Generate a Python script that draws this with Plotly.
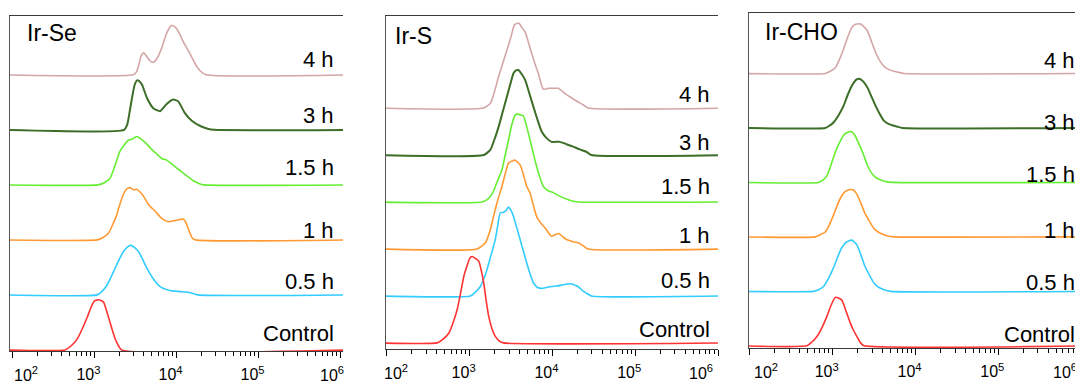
import plotly.graph_objects as go

# ---------------- DATA (log10 fluorescence intensity, normalized histogram height) ----------------
series_names = ["Control", "0.5 h", "1 h", "1.5 h", "3 h", "4 h"]
series_colors = ["#ff3333", "#33ccff", "#ff9933", "#66ee33", "#3d6e28", "#d4a6a6"]
panel_titles = ["Ir-Se", "Ir-S", "Ir-CHO"]
tick_values = [1e2, 1e3, 1e4, 1e5, 1e6]
tick_labels = ["10<sup>2</sup>", "10<sup>3</sup>", "10<sup>4</sup>", "10<sup>5</sup>", "10<sup>6</sup>"]

# Ir-Se
se_control_x = [2.64, 2.72, 2.79, 2.85, 2.91, 2.96, 3.00, 3.04, 3.08, 3.11, 3.15, 3.19, 3.23, 3.27, 3.33]
se_control_y = [0, 0.08, 0.20, 0.38, 0.59, 0.78, 0.89, 0.91, 0.90, 0.87, 0.70, 0.50, 0.30, 0.14, 0]
se_05h_x = [3.03, 3.09, 3.15, 3.20, 3.25, 3.30, 3.35, 3.40, 3.44, 3.49, 3.54, 3.58, 3.62, 3.70, 3.80, 3.92, 4.05, 4.17, 4.26]
se_05h_y = [0, 0.06, 0.17, 0.32, 0.48, 0.64, 0.78, 0.87, 0.90, 0.86, 0.78, 0.67, 0.54, 0.33, 0.15, 0.08, 0.06, 0.04, 0]
se_1h_x = [3.03, 3.10, 3.17, 3.22, 3.27, 3.31, 3.35, 3.39, 3.43, 3.48, 3.51, 3.55, 3.60, 3.66, 3.74, 3.82, 3.90, 3.98, 4.04, 4.08, 4.11, 4.15, 4.19, 4.23]
se_1h_y = [0, 0.04, 0.12, 0.27, 0.45, 0.65, 0.82, 0.92, 0.95, 0.91, 0.92, 0.88, 0.79, 0.64, 0.52, 0.39, 0.33, 0.35, 0.37, 0.38, 0.33, 0.18, 0.04, 0]
se_15h_x = [3.04, 3.12, 3.19, 3.25, 3.31, 3.37, 3.42, 3.46, 3.49, 3.52, 3.56, 3.64, 3.70, 3.76, 3.82, 3.88, 3.94, 4.00, 4.06, 4.13, 4.20, 4.28, 4.33]
se_15h_y = [0, 0.04, 0.12, 0.35, 0.61, 0.74, 0.82, 0.83, 0.86, 0.88, 0.84, 0.74, 0.64, 0.56, 0.48, 0.45, 0.38, 0.31, 0.24, 0.16, 0.08, 0.02, 0]
se_3h_x = [3.36, 3.40, 3.43, 3.46, 3.49, 3.52, 3.55, 3.58, 3.64, 3.72, 3.80, 3.88, 3.96, 4.02, 4.10, 4.19, 4.29, 4.38, 4.46]
se_3h_y = [0, 0.10, 0.34, 0.60, 0.82, 0.90, 0.88, 0.82, 0.58, 0.39, 0.34, 0.47, 0.55, 0.52, 0.31, 0.16, 0.07, 0.02, 0]
se_4h_x = [3.47, 3.51, 3.54, 3.57, 3.60, 3.64, 3.68, 3.72, 3.77, 3.82, 3.88, 3.94, 3.99, 4.04, 4.08, 4.14, 4.19, 4.24, 4.29, 4.36]
se_4h_y = [0, 0.05, 0.18, 0.35, 0.40, 0.33, 0.25, 0.23, 0.32, 0.49, 0.76, 0.90, 0.86, 0.74, 0.61, 0.45, 0.31, 0.17, 0.07, 0]

# Ir-S
s_control_x = [2.61, 2.68, 2.75, 2.80, 2.85, 2.89, 2.93, 2.97, 3.00, 3.03, 3.07, 3.11, 3.14, 3.17, 3.20, 3.23, 3.27, 3.31, 3.36, 3.41]
s_control_y = [0, 0.08, 0.21, 0.43, 0.71, 1.05, 1.42, 1.65, 1.80, 1.84, 1.80, 1.74, 1.55, 1.28, 0.90, 0.57, 0.30, 0.14, 0.04, 0]
s_05h_x = [3.01, 3.07, 3.13, 3.17, 3.21, 3.26, 3.31, 3.34, 3.37, 3.41, 3.44, 3.47, 3.50, 3.53, 3.57, 3.61, 3.65, 3.69, 3.73, 3.77, 3.82, 3.87, 3.93, 3.99, 4.05, 4.11, 4.16, 4.21, 4.26, 4.31, 4.36, 4.41, 4.47]
s_05h_y = [0, 0.08, 0.20, 0.36, 0.56, 0.88, 1.20, 1.50, 1.77, 1.78, 1.82, 1.89, 1.82, 1.69, 1.45, 1.20, 0.95, 0.70, 0.47, 0.28, 0.18, 0.16, 0.18, 0.20, 0.21, 0.23, 0.25, 0.26, 0.24, 0.20, 0.12, 0.06, 0]
s_1h_x = [3.09, 3.19, 3.25, 3.29, 3.33, 3.39, 3.43, 3.47, 3.51, 3.55, 3.61, 3.65, 3.69, 3.73, 3.77, 3.81, 3.86, 3.91, 3.95, 3.99, 4.04, 4.08, 4.12, 4.17, 4.24, 4.31, 4.37, 4.43]
s_1h_y = [0, 0.13, 0.41, 0.70, 0.98, 1.33, 1.60, 1.83, 1.87, 1.89, 1.79, 1.58, 1.33, 1.19, 0.93, 0.69, 0.55, 0.45, 0.35, 0.27, 0.31, 0.33, 0.27, 0.20, 0.16, 0.13, 0.07, 0]
s_15h_x = [3.15, 3.22, 3.28, 3.33, 3.39, 3.43, 3.47, 3.51, 3.55, 3.58, 3.62, 3.65, 3.69, 3.73, 3.77, 3.81, 3.85, 3.89, 3.95, 4.01, 4.08, 4.16, 4.24, 4.31]
s_15h_y = [0, 0.06, 0.20, 0.42, 0.68, 1.00, 1.32, 1.65, 1.85, 1.87, 1.85, 1.83, 1.60, 1.32, 1.03, 0.75, 0.52, 0.33, 0.24, 0.20, 0.13, 0.07, 0.02, 0]
s_3h_x = [3.17, 3.25, 3.30, 3.35, 3.40, 3.45, 3.49, 3.53, 3.56, 3.59, 3.63, 3.67, 3.72, 3.77, 3.82, 3.87, 3.93, 3.99, 4.04, 4.09, 4.17, 4.25, 4.33, 4.41, 4.47]
s_3h_y = [0, 0.11, 0.33, 0.60, 0.92, 1.24, 1.50, 1.74, 1.80, 1.81, 1.72, 1.60, 1.32, 1.03, 0.75, 0.50, 0.36, 0.28, 0.28, 0.28, 0.23, 0.18, 0.12, 0.07, 0]
s_4h_x = [3.17, 3.25, 3.30, 3.35, 3.40, 3.45, 3.50, 3.54, 3.57, 3.60, 3.63, 3.67, 3.71, 3.75, 3.79, 3.83, 3.89, 3.95, 4.01, 4.07, 4.14, 4.21, 4.29, 4.37, 4.43]
s_4h_y = [0, 0.10, 0.35, 0.67, 0.95, 1.23, 1.52, 1.77, 1.80, 1.80, 1.72, 1.62, 1.40, 1.16, 0.94, 0.74, 0.40, 0.42, 0.42, 0.42, 0.33, 0.24, 0.15, 0.07, 0]

# Ir-CHO
cho_control_x = [2.69, 2.75, 2.81, 2.87, 2.93, 2.98, 3.03, 3.07, 3.11, 3.17, 3.21, 3.25, 3.30, 3.34, 3.38]
cho_control_y = [0, 0.07, 0.17, 0.33, 0.54, 0.74, 0.89, 0.88, 0.84, 0.60, 0.43, 0.29, 0.15, 0.05, 0]
cho_05h_x = [2.77, 2.83, 2.89, 2.95, 3.01, 3.06, 3.11, 3.17, 3.23, 3.29, 3.34, 3.39, 3.45, 3.50, 3.56, 3.62, 3.70]
cho_05h_y = [0, 0.03, 0.09, 0.24, 0.43, 0.63, 0.80, 0.91, 0.94, 0.86, 0.67, 0.46, 0.28, 0.15, 0.07, 0.03, 0]
cho_1h_x = [2.79, 2.85, 2.91, 2.96, 3.01, 3.05, 3.09, 3.15, 3.21, 3.25, 3.29, 3.34, 3.39, 3.45, 3.50, 3.56, 3.62, 3.68, 3.73]
cho_1h_y = [0, 0.04, 0.09, 0.22, 0.40, 0.56, 0.70, 0.83, 0.87, 0.86, 0.79, 0.62, 0.43, 0.27, 0.15, 0.08, 0.04, 0.01, 0]
cho_15h_x = [2.83, 2.88, 2.93, 2.98, 3.03, 3.08, 3.13, 3.18, 3.23, 3.27, 3.31, 3.37, 3.42, 3.47, 3.52, 3.59, 3.66, 3.72]
cho_15h_y = [0, 0.04, 0.12, 0.32, 0.55, 0.72, 0.86, 0.92, 0.93, 0.86, 0.73, 0.52, 0.31, 0.17, 0.09, 0.04, 0.01, 0]
cho_3h_x = [2.91, 2.96, 3.01, 3.07, 3.13, 3.18, 3.23, 3.29, 3.33, 3.37, 3.42, 3.47, 3.52, 3.57, 3.62, 3.68, 3.74, 3.79, 3.84]
cho_3h_y = [0, 0.04, 0.10, 0.23, 0.40, 0.60, 0.77, 0.89, 0.90, 0.85, 0.74, 0.57, 0.40, 0.25, 0.13, 0.07, 0.04, 0.02, 0]
cho_4h_x = [2.91, 2.97, 3.03, 3.08, 3.13, 3.18, 3.23, 3.27, 3.33, 3.37, 3.42, 3.47, 3.52, 3.57, 3.62, 3.68, 3.74, 3.80, 3.86]
cho_4h_y = [0, 0.04, 0.10, 0.25, 0.44, 0.66, 0.84, 0.90, 0.91, 0.87, 0.78, 0.58, 0.38, 0.23, 0.13, 0.07, 0.04, 0.02, 0]

panels = [
    [(se_control_x, se_control_y), (se_05h_x, se_05h_y), (se_1h_x, se_1h_y),
     (se_15h_x, se_15h_y), (se_3h_x, se_3h_y), (se_4h_x, se_4h_y)],
    [(s_control_x, s_control_y), (s_05h_x, s_05h_y), (s_1h_x, s_1h_y),
     (s_15h_x, s_15h_y), (s_3h_x, s_3h_y), (s_4h_x, s_4h_y)],
    [(cho_control_x, cho_control_y), (cho_05h_x, cho_05h_y), (cho_1h_x, cho_1h_y),
     (cho_15h_x, cho_15h_y), (cho_3h_x, cho_3h_y), (cho_4h_x, cho_4h_y)],
]

# ---------------- LAYOUT ----------------
W, H = 1083, 385
OFF = 8  # page body margin offset
x_px = [(10 - OFF, 343 - OFF), (386 - OFF, 718 - OFF), (749 - OFF, 1082 - OFF)]
y_px = [(16 - OFF, 351 - OFF), (16 - OFF, 349 - OFF), (13 - OFF, 348 - OFF)]
x_ranges = [(1.97, 6.03), (1.99, 6.0), (1.99, 6.01)]
y_ranges = [(-0.02, 6.07), (-0.13, 6.96), (-0.04, 6.11)]
label_dy = [[0.29, 0.25, 0.17, 0.31, 0.26, 0.28],
            [0.28, 0.33, 0.29, 0.34, 0.27, 0.28],
            [0.20, 0.16, 0.11, 0.14, 0.10, 0.24]]
label_xr = [0.978, 0.981, 0.984]
title_pos = [(0.045, 0.949), (0.020, 0.94), (0.043, 0.942)]
line_w = [1.6, 1.6, 1.6, 1.6, 2.0, 1.6]
# pixel shifts of the end tick labels (pulled inward, as in the original)
first_shift = [14, 9, 16]
last_shift = [-9, -17, -16]
TICK_SHIFT = -6
TICK_LABEL_DROP = 23  # px from axis line to label centre

minor_vals = [m * 10 ** d for d in range(1, 6) for m in range(2, 10)]

FONT = "Liberation Sans, Arial, sans-serif"
fig = go.Figure()
annotations = []
layout = dict(width=W, height=H, margin=dict(l=0, r=0, t=0, b=0, pad=0, autoexpand=False),
              paper_bgcolor="white", plot_bgcolor="white", showlegend=False)

for p, series in enumerate(panels):
    ax = "" if p == 0 else str(p + 1)
    rax = str(p + 4)
    xr0, xr1 = x_ranges[p]
    for i in reversed(range(len(series))):
        lx, hy = series[i]
        xs = [10 ** (xr0 - 0.1)] + [10 ** v for v in lx] + [10 ** (xr1 + 0.1)]
        ys = [i] + [i + v for v in hy] + [i]
        fig.add_trace(go.Scatter(
            x=xs, y=ys, mode="lines", xaxis="x" + ax, yaxis="y" + ax,
            line=dict(color=series_colors[i], width=line_w[i], shape="spline", smoothing=0.5),
            hoverinfo="skip"))
        annotations.append(dict(
            text=series_names[i], xref="x" + ax + " domain", yref="y" + ax,
            x=label_xr[p], y=i + label_dy[p][i], xanchor="right", yanchor="middle",
            showarrow=False, font=dict(family=FONT, size=22, color="black")))
    annotations.append(dict(
        text=panel_titles[p], xref="x" + ax + " domain", yref="y" + ax + " domain",
        x=title_pos[p][0], y=title_pos[p][1], xanchor="left", yanchor="middle",
        showarrow=False, font=dict(family=FONT, size=23, color="black")))

    # end tick labels drawn as annotations on the axis (so they can sit inward)
    ttext = list(tick_labels)
    for idx, shift in ((0, first_shift[p]), (len(tick_values) - 1, last_shift[p])):
        annotations.append(dict(
            text=tick_labels[idx], xref="x" + ax, yref="y" + ax + " domain",
            x=float(__import__("math").log10(tick_values[idx])), y=0,
            xanchor="center", yanchor="middle", xshift=shift, yshift=-TICK_LABEL_DROP,
            showarrow=False, borderpad=0, font=dict(family=FONT, size=16, color="black")))
        ttext[idx] = ""

    ydom = [1 - y_px[p][1] / H, 1 - y_px[p][0] / H]
    layout["xaxis" + ax] = dict(
        type="log", range=list(x_ranges[p]),
        domain=[x_px[p][0] / W, x_px[p][1] / W],
        anchor="y" + ax, showgrid=False, zeroline=False, automargin=False,
        showline=True, linecolor="#3a3a3a", linewidth=1.2, mirror=True,
        ticks="outside", ticklen=6, tickwidth=1, tickcolor="black",
        tickvals=tick_values, ticktext=ttext,
        tickfont=dict(family=FONT, size=16, color="black"),
        ticklabeloverflow="allow", ticklabelshift=TICK_SHIFT, ticklabelstandoff=3,
        minor=dict(tickvals=minor_vals, ticks="outside", ticklen=4, tickwidth=1, tickcolor="black"),
        layer="below traces")
    layout["yaxis" + ax] = dict(
        range=list(y_ranges[p]), domain=ydom,
        anchor="x" + ax, showgrid=False, zeroline=False, automargin=False,
        showline=True, linecolor="#555555", linewidth=1.2, mirror=False,
        showticklabels=False, ticks="", layer="below traces")
    # darker right-hand frame edge
    layout["yaxis" + rax] = dict(
        range=list(y_ranges[p]), domain=ydom, overlaying="y" + ax, side="right",
        anchor="x" + ax, showgrid=False, zeroline=False, automargin=False,
        showline=True, linecolor="#111111", linewidth=2.2,
        showticklabels=False, ticks="")

layout["annotations"] = annotations
fig.update_layout(**layout)
fig.write_html("out.html")
